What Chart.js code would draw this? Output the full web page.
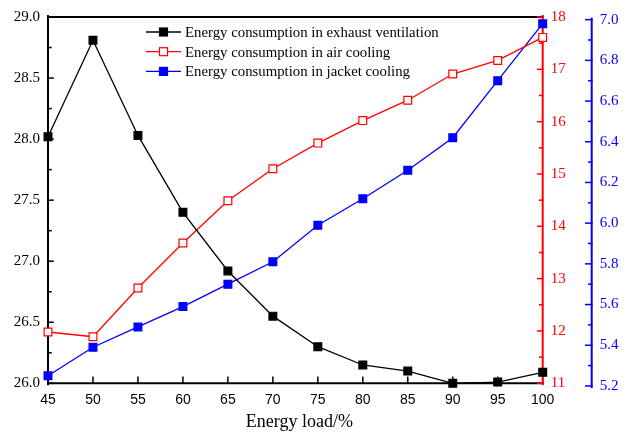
<!DOCTYPE html>
<html>
<head>
<meta charset="utf-8">
<script src="https://cdn.jsdelivr.net/npm/chart.js@4.4.0/dist/chart.umd.min.js"></script>
<style>
html, body { margin: 0; padding: 0; background: #fff; }
#wrap { width: 635px; height: 434px; }
</style>
</head>
<body>
<div id="wrap"><canvas id="chart" width="635" height="434"></canvas></div>
<script>
// =====================================================
// DATA
// =====================================================
const loads = ['45', '50', '55', '60', '65', '70', '75', '80', '85', '90', '95', '100'];
const exhaustVentilation = [28.02, 28.81, 28.03, 27.40, 26.92, 26.55, 26.30, 26.15, 26.10, 26.00, 26.01, 26.09];
const airCooling = [11.98, 11.89, 12.82, 13.68, 14.49, 15.10, 15.59, 16.02, 16.41, 16.91, 17.17, 17.61];
const jacketCooling = [5.25, 5.39, 5.49, 5.59, 5.70, 5.81, 5.99, 6.12, 6.26, 6.42, 6.70, 6.98];

const seriesNames = [
    'Energy consumption in exhaust ventilation',
    'Energy consumption in air cooling',
    'Energy consumption in jacket cooling'
];
const xTitle = 'Energy load/%';

const leftTicks = [26.0, 26.5, 27.0, 27.5, 28.0, 28.5, 29.0];
const redTicks = [11, 12, 13, 14, 15, 16, 17, 18];
const blueTicks = [5.2, 5.4, 5.6, 5.8, 6.0, 6.2, 6.4, 6.6, 6.8, 7.0];

const SERIF = "'Liberation Serif', 'Times New Roman', serif";
const SANS = "'Liberation Sans', Arial, sans-serif";

// =====================================================
// PLUGINS: inward axis ticks, line/marker legend, axis title
// =====================================================
function vLine(ctx, x, y0, y1) {
    ctx.beginPath(); ctx.moveTo(x, y0); ctx.lineTo(x, y1); ctx.stroke();
}
function hLine(ctx, y, x0, x1) {
    ctx.beginPath(); ctx.moveTo(x0, y); ctx.lineTo(x1, y); ctx.stroke();
}

function drawVerticalAxis(ctx, scale, x, values, color, dir, majorLen, minorLen) {
    const first = values[0], last = values[values.length - 1];
    ctx.strokeStyle = color;
    ctx.lineWidth = 2;
    vLine(ctx, x, scale.getPixelForValue(first) + 1, scale.getPixelForValue(last) - 1);
    ctx.lineWidth = 1.5;
    values.forEach((v, i) => {
        const y = scale.getPixelForValue(v);
        hLine(ctx, y, x, x + dir * majorLen);
        if (i < values.length - 1) {
            const ym = scale.getPixelForValue((v + values[i + 1]) / 2);
            hLine(ctx, ym, x, x + dir * minorLen);
        }
    });
}

const axisDecor = {
    id: 'axisDecor',
    beforeDatasetsDraw(chart) {
        const { ctx, chartArea: a, scales } = chart;
        ctx.save();
        ctx.lineCap = 'square';
        // frame: left, top, bottom in black
        ctx.strokeStyle = '#000';
        ctx.lineWidth = 2;
        hLine(ctx, a.top, a.left, a.right);
        hLine(ctx, a.bottom, a.left, a.right);
        drawVerticalAxis(ctx, scales.y, a.left, leftTicks, '#000', 1, 5, 3);
        // x ticks pointing up
        ctx.strokeStyle = '#000';
        ctx.lineWidth = 1.5;
        loads.forEach((l, i) => {
            const x = scales.x.getPixelForValue(i);
            vLine(ctx, x, a.bottom, a.bottom - 6);
        });
        // red axis on the plot's right edge
        drawVerticalAxis(ctx, scales.y1, a.right, redTicks, '#ff0000', -1, 5, 3);
        // blue axis, offset outward
        drawVerticalAxis(ctx, scales.y2, scales.y2.left, blueTicks, '#0000ff', -1, 6, 3);
        ctx.restore();
    }
};

const lineLegend = {
    id: 'lineLegend',
    afterDraw(chart) {
        const { ctx, chartArea: a } = chart;
        ctx.save();
        chart.data.datasets.forEach((ds, i) => {
            const y = a.top + 15 + i * 19.7;
            const x0 = a.left + 98, x1 = a.left + 133, xm = (x0 + x1) / 2;
            ctx.strokeStyle = ds.borderColor;
            ctx.lineWidth = 1.3;
            hLine(ctx, y, x0, x1);
            ctx.fillStyle = ds.pointBackgroundColor;
            ctx.fillRect(xm - 4, y - 4, 8, 8);
            ctx.lineWidth = 1.2;
            ctx.strokeStyle = ds.pointBorderColor;
            ctx.strokeRect(xm - 4, y - 4, 8, 8);
            ctx.fillStyle = '#000';
            ctx.font = '14.8px ' + SERIF;
            ctx.textAlign = 'left';
            ctx.textBaseline = 'middle';
            ctx.fillText(ds.label, x1 + 4, y + 1);
        });
        // x axis title
        ctx.font = '18px ' + SERIF;
        ctx.textAlign = 'center';
        ctx.textBaseline = 'middle';
        ctx.fillText(xTitle, (a.left + a.right) / 2 + 4, 422);
        ctx.restore();
    }
};

// =====================================================
// CHART
// =====================================================
function series(label, data, color, fill, axis) {
    return {
        label: label,
        data: data,
        yAxisID: axis,
        borderColor: color,
        backgroundColor: color,
        borderWidth: 1.3,
        pointStyle: 'rect',
        pointRadius: 5.5,
        pointHoverRadius: 5.5,
        pointBackgroundColor: fill,
        pointBorderColor: color,
        pointBorderWidth: 1.2,
        tension: 0,
        clip: false
    };
}

function fixedTicks(values) {
    return scale => { scale.ticks = values.map(v => ({ value: v })); };
}

const ctx = document.getElementById('chart').getContext('2d');
new Chart(ctx, {
    type: 'line',
    data: {
        labels: loads,
        datasets: [
            series(seriesNames[0], exhaustVentilation, '#000000', '#000000', 'y'),
            series(seriesNames[1], airCooling, '#ff0000', '#ffffff', 'y1'),
            series(seriesNames[2], jacketCooling, '#0000ff', '#0000ff', 'y2')
        ]
    },
    options: {
        responsive: false,
        animation: false,
        devicePixelRatio: 1,
        layout: { padding: { top: 14, left: 0, right: 0, bottom: 0 } },
        plugins: { legend: { display: false }, tooltip: { enabled: false } },
        scales: {
            x: {
                type: 'category',
                offset: false,
                grid: { display: false, drawTicks: false },
                border: { display: false },
                ticks: { color: '#000', font: { family: SANS, size: 14 }, padding: 8, maxRotation: 0, autoSkip: false },
                title: { display: false },
                afterFit: s => { s.height = 50.7; }
            },
            y: {
                position: 'left',
                min: 26.0, max: 29.0,
                grid: { display: false, drawTicks: false },
                border: { display: false },
                afterBuildTicks: fixedTicks(leftTicks),
                ticks: { color: '#000', font: { family: SERIF, size: 15 }, padding: 8, autoSkip: false,
                    callback: v => Number(v).toFixed(1) },
                afterFit: s => { s.width = 48; }
            },
            y1: {
                position: 'right',
                weight: 0,
                min: 11, max: 18,
                grid: { display: false, drawTicks: false },
                border: { display: false },
                afterBuildTicks: fixedTicks(redTicks),
                ticks: { color: '#ff0000', font: { family: SERIF, size: 15 }, padding: 8, autoSkip: false,
                    callback: v => String(Math.round(v)) },
                afterFit: s => { s.width = 49; }
            },
            y2: {
                position: 'right',
                weight: 1,
                // the blue axis sits ~2.7px lower than the plot frame
                min: 5.213, max: 7.013,
                grid: { display: false, drawTicks: false },
                border: { display: false },
                afterBuildTicks: fixedTicks(blueTicks),
                ticks: { color: '#0000ff', font: { family: SERIF, size: 15 }, padding: 8, autoSkip: false,
                    callback: v => Number(v).toFixed(1) },
                afterFit: s => { s.width = 43.3; }
            }
        }
    },
    plugins: [axisDecor, lineLegend]
});
</script>
</body>
</html>
